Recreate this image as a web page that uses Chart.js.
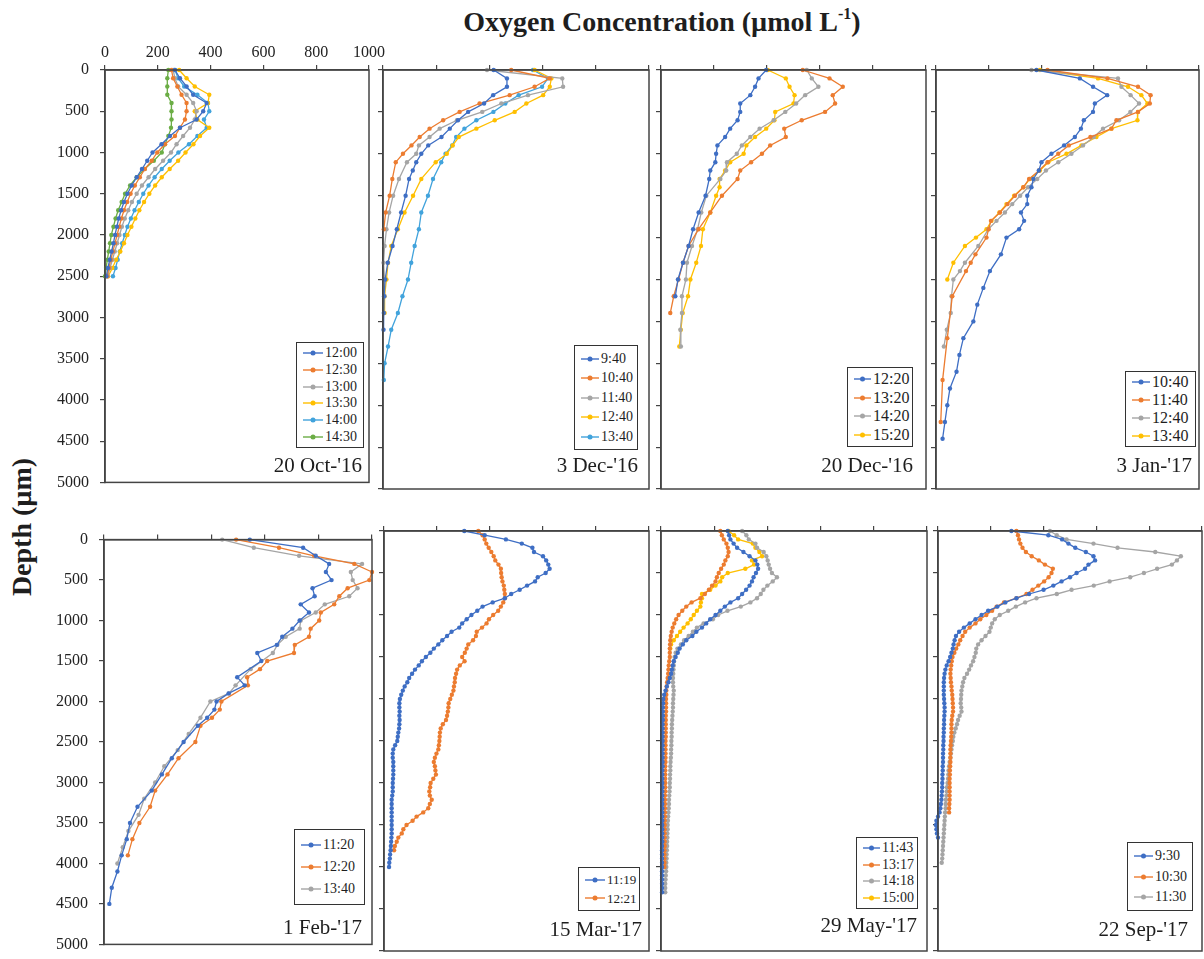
<!DOCTYPE html>
<html>
<head>
<meta charset="utf-8">
<title>Oxygen profiles</title>
<script src="https://cdn.jsdelivr.net/npm/chart.js@4.4.1/dist/chart.umd.min.js"></script>
<style>
  body { margin: 0; background: #fff; }
  #page { position: relative; width: 1204px; height: 959px; overflow: hidden;
          font-family: "Liberation Serif", "Times New Roman", serif; color: #1e1e1e; }
  .panel { position: absolute; }
  .panel canvas { display: block; }
  #title { position: absolute; left: 362px; width: 600px; top: 6px; text-align: center;
           font-size: 28px; font-weight: bold; line-height: 32px; }
  #title sup { font-size: 16px; vertical-align: 12px; line-height: 0; }
  #ylab { position: absolute; left: 22px; top: 527px; font-size: 28px; font-weight: bold;
          white-space: nowrap; line-height: 30px; transform: translate(-50%, -50%) rotate(-90deg); }
  .date { position: absolute; width: 200px; text-align: right; font-size: 21px; line-height: 21px; }
  .legend { position: absolute; box-sizing: border-box; border: 1.5px solid #333; background: #fff;
            display: flex; flex-direction: column; justify-content: space-evenly; padding-left: 6px; }
  .legend .item { display: flex; align-items: center; line-height: 1; }
  .legend svg { margin-right: 2px; }
</style>
</head>
<body>
<div id="page">
  <div id="title">Oxygen Concentration (µmol L<sup>-1</sup>)</div>
  <div id="ylab">Depth (µm)</div>
</div>
<script>
// depth grids (µm)
const depth100 = [0,100,200,300,400,500,600,700,800,900,1000,1100,1200,1300,1400,1500,1600,1700,1800,1900,
  2000,2100,2200,2300,2400,2500,2600,2700,2800,2900,3000,3100,3200,3300,3400,3500,3600,3700,3800,3900,
  4000,4100,4200,4300,4400,4500];
const depth50 = [0,50,100,150,200,250,300,350,400,450,500,550,600,650,700,750,800,850,900,950,
  1000,1050,1100,1150,1200,1250,1300,1350,1400,1450,1500,1550,1600,1650,1700,1750,1800,1850,1900,1950,
  2000,2050,2100,2150,2200,2250,2300,2350,2400,2450,2500,2550,2600,2650,2700,2750,2800,2850,2900,2950,
  3000,3050,3100,3150,3200,3250,3300,3350,3400,3450,3500,3550,3600,3650,3700,3750,3800,3850,3900,3950,
  4000,4050,4100,4150,4200,4250,4300];

const concTicks = [0, 200, 400, 600, 800, 1000];
const depthTicks = [0, 500, 1000, 1500, 2000, 2500, 3000, 3500, 4000, 4500, 5000];

// 20 Oct-'16 (µmol/L on depth100)
const oct20Times = ['12:00', '12:30', '13:00', '13:30', '14:00', '14:30'];
const oct20_1200 = [265,284,309,334,385,372,347,284,246,214,180,160,140,120,101,85,72,61,52,45,38,32,25,18,11,5];
const oct20_1230 = [252,258,274,290,309,309,303,284,265,227,198,177,151,132,113,97,84,72,62,54,46,38,30,22,15,8];
const oct20_1300 = [258,265,277,309,334,347,340,322,296,271,250,220,190,165,140,120,102,88,75,64,55,46,37,28,19,10];
const oct20_1330 = [281,309,340,395,390,340,350,395,360,335,305,277,245,215,190,168,148,130,115,100,85,72,58,42,28,12];
const oct20_1400 = [265,277,300,350,390,395,375,385,350,318,278,245,215,188,165,145,128,112,98,85,75,65,56,48,40,30];
const oct20_1430 = [240,236,236,236,252,252,252,250,240,227,215,185,150,120,95,76,63,50,40,32,24,19,14,9,4,0];

// 3 Dec-'16 (depth100)
const dec03Times = ['9:40', '10:40', '11:40', '12:40', '13:40'];
const dec03_0940 = [416,466,466,414,380,320,282,251,220,170,144,125,112,98,null,85,null,68,null,52,null,36,null,18,null,8,null,4,null,3,null,2];
const dec03_1040 = [482,627,570,476,363,288,226,175,138,107,75,48,null,35,null,25,null,10,null,3];
const dec03_1140 = [391,674,677,545,445,373,278,213,175,135,125,90,null,60,null,38,null,23,null,13,null,6,null,2,null,6,null,6];
const dec03_1240 = [570,633,627,602,539,495,420,351,285,262,240,198,null,144,null,113,null,81,null,56,null,31,null,19,null,13,null,6,null,6];
const dec03_1340 = [564,620,598,510,460,415,351,306,275,260,235,219,null,188,null,169,null,144,null,135,null,119,null,106,null,94,null,73,null,56,null,31,null,19,null,6,null,3];

// 20 Dec-'16 (depth100)
const dec20Times = ['12:20', '13:20', '14:20', '15:20'];
const dec20_1220 = [397,368,355,337,299,299,289,261,242,213,208,205,186,182,null,168,null,142,null,121,null,104,null,83,null,64,null,54];
const dec20_1320 = [535,636,686,648,657,619,531,465,471,412,381,340,299,289,null,230,null,186,null,142,null,104,null,83,null,66,null,48,null,35];
const dec20_1420 = [550,569,594,544,510,469,425,372,337,305,286,249,246,224,null,171,null,152,null,138,null,117,null,98,null,94,null,79,null,79,null,73,null,75];
const dec20_1520 = [403,471,485,504,500,431,428,397,355,322,312,261,242,221,221,208,null,186,null,158,null,151,null,133,null,111,null,102,null,82,null,75,null,69];

// 3 Jan-'17 (depth100)
const jan03Times = ['10:40', '11:40', '12:40', '13:40'];
const jan03_1040 = [382,547,597,651,604,597,562,551,528,487,439,401,391,370,363,347,347,323,335,316,268,null,247,null,205,null,180,null,157,null,142,null,104,null,89,null,78,null,53,null,43,null,34,null,25];
const jan03_1140 = [424,652,768,816,813,768,686,667,587,505,465,424,392,354,332,300,272,243,209,200,192,null,150,132,114,null,null,62,null,null,null,null,43,null,null,null,null,25,null,null,null,null,18];
const jan03_1240 = [363,692,705,740,772,739,696,635,600,559,515,465,418,385,350,320,290,262,230,199,null,161,null,110,91,66,null,59,null,56,null,41,null,30];
const jan03_1340 = [395,616,730,781,804,768,766,667,610,553,496,427,395,357,332,297,268,241,211,192,152,110,null,66,null,43];

// 1 Feb-'17 (depth100)
const feb01Times = ['11:20', '12:20', '13:40'];
const feb01_1120 = [544,743,790,840,828,849,778,786,734,765,730,703,665,645,572,587,null,497,525,465,420,412,385,350,null,297,null,253,null,216,null,178,null,125,null,97,null,85,null,66,null,50,null,29,null,20];
const feb01_1220 = [493,653,784,934,1000,990,909,878,859,809,803,771,765,712,709,609,582,534,537,null,438,432,403,360,null,341,null,278,null,237,null,191,null,172,null,132,null,106,null,89];
const feb01_1340 = [441,559,728,963,921,928,946,915,824,790,734,730,678,647,630,null,547,null,491,466,397,null,360,null,316,null,275,null,225,null,191,null,150,null,129,null,91,null,70,null,50];

// 15 Mar-'17 (depth50)
const mar15Times = ['11:19', '12:21'];
const mar15_1119 = [303,380,460,520,560,566,600,612,620,625, 610,580,570,540,512,480,456,410,372,352,
  330,312,295,284,255,238,220,205,188,175, 158,143,131,117,106,95,88,78,71,65,
  60,58,58,59,58,59,58,57,54,52, 50,42,35,33,33,35,35,35,35,34,
  33,33,33,31,29,29,29,29,29,29, 29,29,29,28,27,26,25,23,22,20, 19];
const mar15_1221 = [356,372,380,386,395,405,414,420,432,441, 442,444,447,452,454,456,456,450,441,431,
  412,396,387,370,350,347,336,318,312,305, 295,304,286,276,272,268,267,264,262,256,
  250,244,243,241,238,234,222,214,211,210, 209,207,205,198,192,188,192,194,196,186,
  176,174,171,173,180,173,167,148,123,108, 85,73,67,54,48,41,38];

// 29 May-'17 (depth50)
const may29Times = ['11:43', '13:17', '14:18', '15:00'];
const may29_1143 = [251,256,261,273,286,310,333,355,362,365, 357,348,342,333,320,305,290,261,240,223,
  205,185,170,154,133,118,95,82,70,63, 55,48,44,41,38,33,28,22,17,12,
  9,8,7,7,7,7,6,6,6,6, 6,6,6,6,6,6,6,5,5,5,
  5,5,5,5,5,5,5,5,5,5, 5,5,5,5,5,4,4,4,4,4, 4,4,4,4,4,4,4];
const may29_1317 = [223,229,236,246,251,254,251,242,236,226, 217,210,205,192,180,165,148,115,95,80,
  66,57,50,44,40,37,35,34,33,33, 33,31,29,28,27,25,23,21,20,20,
  19,19,19,19,18,18,18,18,18,18, 17,17,17,17,17,17,16,16,16,16,
  16,16,16,15,15,15,15,15,15,14, 14,14,14,14,14,14,13,13,13,13, 13];
const may29_1418 = [305,321,330,355,361,386,396,401,405,410, 417,436,420,400,385,375,361,336,300,250,
  215,195,160,135,120,104,87,75,62,55, 51,49,48,47,46,45,45,46,48,47,
  46,45,45,44,43,42,41,41,40,40, 39,39,38,38,37,36,35,35,34,34,
  33,33,32,31,30,30,29,28,27,26, 25,25,24,24,23,23,22,21,21,20, 20,19,18,17,16,16,16];
const may29_1500 = [254,275,290,345,355,370,380,342,350,317, 251,230,223,205,185,154,154,150,148,135,
  123,112,100,85,72,60,48,38,35];

// 22 Sep-'17 (depth50)
const sep22Times = ['9:30', '10:30', '11:30'];
const sep22_0930 = [278,418,470,494,520,560,589,595,570,557, 525,500,468,437,400,345,297,255,225,190,
  165,142,120,98,80,68,63,59,56,51, 46,40,33,28,25,23,22,22,22,22,
  23,24,25,25,24,23,23,22,22,21, 21,20,20,19,19,19,18,18,17,17,
  16,16,15,14,13,11,9,6,0,-6, -8,-6,-4,0];
const sep22_1030 = [297,303,307,312,320,333,355,382,405,435, 430,419,402,380,358,335,297,250,222,205,
  183,160,142,120,103,93,84,77,69,62, 55,52,50,48,47,48,49,51,52,54,
  55,56,57,57,54,52,51,51,51,50, 49,48,47,47,47,47,46,45,45,44,
  44,44,44,44,44,43,42,42];
const sep22_1130 = [424,450,487,589,680,823,920,905,886,830, 780,728,650,590,506,450,373,330,295,266,
  234,215,205,200,195,180,165,152,145,143, 138,133,125,118,110,100,95,92,89,88,
  87,86,88,89,82,76,72,67,62,58, 56,53,51,49,47,44,42,40,39,38,
  36,34,33,32,30,29,29,27,26,25, 24,23,22,21,20,19,18,17,16,14];

// office-style series colours
const blue = '#3E6EC4', orange = '#EC7C30', grey = '#A5A5A5', gold = '#FFBF00', sky = '#41A3DC', green = '#6BAD45';

const panels = [
  { date: "20 Oct-'16", depth: depth100, times: oct20Times,
    series: [oct20_1200, oct20_1230, oct20_1300, oct20_1330, oct20_1400, oct20_1430],
    colors: [blue, orange, grey, gold, sky, green] },
  { date: "3 Dec-'16", depth: depth100, times: dec03Times,
    series: [dec03_0940, dec03_1040, dec03_1140, dec03_1240, dec03_1340],
    colors: [blue, orange, grey, gold, sky] },
  { date: "20 Dec-'16", depth: depth100, times: dec20Times,
    series: [dec20_1220, dec20_1320, dec20_1420, dec20_1520], colors: [blue, orange, grey, gold] },
  { date: "3 Jan-'17", depth: depth100, times: jan03Times,
    series: [jan03_1040, jan03_1140, jan03_1240, jan03_1340], colors: [blue, orange, grey, gold] },
  { date: "1 Feb-'17", depth: depth100, times: feb01Times,
    series: [feb01_1120, feb01_1220, feb01_1340], colors: [blue, orange, grey] },
  { date: "15 Mar-'17", depth: depth50, times: mar15Times,
    series: [mar15_1119, mar15_1221], colors: [blue, orange] },
  { date: "29 May-'17", depth: depth50, times: may29Times,
    series: [may29_1143, may29_1317, may29_1418, may29_1500], colors: [blue, orange, grey, gold] },
  { date: "22 Sep-'17", depth: depth50, times: sep22Times,
    series: [sep22_0930, sep22_1030, sep22_1130], colors: [blue, orange, grey] }
];

// plot boxes [left, top, right, bottom] in page pixels
const plotBoxes = [
  [105, 70, 369, 489], [383, 70, 649, 489], [661, 70, 926, 489], [936, 70, 1199, 489],
  [104, 531, 372, 951], [384, 531, 649, 951], [661, 531, 927, 951], [938, 531, 1202, 951]
];
// legend boxes [left, top, right, bottom], font size, marker width
const legendBoxes = [
  [296, 342, 364, 448, 14, 20], [574, 345, 638, 450, 14, 18], [847, 367, 913, 447, 16, 17], [1125, 371, 1196, 447, 16, 18],
  [294, 829, 365, 905, 14, 20], [578, 867, 640, 911, 13, 20], [856, 837, 918, 909, 14, 17], [1127, 842, 1193, 911, 14, 19]
];
// date label [right edge, baseline]
const dateSpots = [[362, 473], [638, 473], [913, 473], [1192, 473], [362, 935], [642, 937], [917, 933], [1188, 937]];

Chart.defaults.font.family = "'Liberation Serif', 'Times New Roman', serif";
Chart.defaults.color = '#222';

const frame = {
  id: 'frame',
  afterDatasetsDraw(chart) {
    const a = chart.chartArea, g = chart.ctx;
    g.save();
    g.strokeStyle = '#444';
    g.lineWidth = 1.5;
    g.strokeRect(a.left, a.top, a.right - a.left, a.bottom - a.top);
    g.restore();
  }
};

const page = document.getElementById('page');

panels.forEach((p, i) => {
  const [l, t, r, b] = plotBoxes[i];
  const firstCol = i % 4 === 0;
  const yw = firstCol ? 60 : 8;
  const xh = i === 0 ? 45 : 12;
  const padR = i === 0 ? 24 : 6;
  const padB = 14;
  const w = r - l + yw + padR, h = b - t + xh + padB;

  const wrap = document.createElement('div');
  wrap.className = 'panel';
  wrap.style.left = (l - yw) + 'px';
  wrap.style.top = (t - xh) + 'px';
  wrap.style.width = w + 'px';
  wrap.style.height = h + 'px';
  const cv = document.createElement('canvas');
  cv.width = w; cv.height = h;
  cv.style.width = w + 'px'; cv.style.height = h + 'px';
  wrap.appendChild(cv);
  page.appendChild(wrap);

  new Chart(cv, {
    type: 'scatter',
    data: {
      datasets: p.series.map((vals, k) => ({
        label: p.times[k],
        data: vals.map((v, j) => v === null ? null : { x: v, y: p.depth[j] }).filter(Boolean),
        showLine: true,
        borderColor: p.colors[k],
        backgroundColor: p.colors[k],
        borderWidth: 1.3,
        pointRadius: 2.2,
        pointBorderWidth: 0,
        clip: false
      }))
    },
    options: {
      responsive: false,
      animation: false,
      events: [],
      layout: { padding: { left: 0, top: 0, right: padR, bottom: padB } },
      plugins: { legend: { display: false }, tooltip: { enabled: false } },
      scales: {
        x: {
          type: 'linear', position: 'top', min: 0, max: 1000,
          afterBuildTicks: s => { s.ticks = concTicks.map(v => ({ value: v })); },
          afterFit: s => { s.height = xh; },
          ticks: { display: i === 0, padding: 3, font: { size: 16 }, callback: v => String(v) },
          grid: { drawOnChartArea: false, tickLength: 5, color: '#444', lineWidth: 1.2 },
          border: { color: '#444', width: 1.5 }
        },
        y: {
          type: 'linear', reverse: true, min: 0, max: 5000,
          afterBuildTicks: s => { s.ticks = depthTicks.map(v => ({ value: v })); },
          afterFit: s => { s.width = yw; },
          ticks: { display: firstCol, padding: 11, font: { size: 16 }, callback: v => String(v) },
          grid: { drawOnChartArea: false, tickLength: 5, color: '#444', lineWidth: 1.2 },
          border: { color: '#444', width: 1.5 }
        }
      }
    },
    plugins: [frame]
  });

  // legend box
  const [ll, lt, lr, lb, fs, mw] = legendBoxes[i];
  const lg = document.createElement('div');
  lg.className = 'legend';
  lg.style.left = ll + 'px';
  lg.style.top = lt + 'px';
  lg.style.width = (lr - ll) + 'px';
  lg.style.height = (lb - lt) + 'px';
  lg.style.fontSize = fs + 'px';
  p.times.forEach((name, k) => {
    const c = p.colors[k];
    const item = document.createElement('div');
    item.className = 'item';
    item.innerHTML = '<svg width="' + mw + '" height="8"><line x1="0" y1="4" x2="' + mw + '" y2="4" stroke="' + c +
      '" stroke-width="1.4"/><circle cx="' + (mw / 2) + '" cy="4" r="2.5" fill="' + c + '"/></svg><span>' + name + '</span>';
    lg.appendChild(item);
  });
  page.appendChild(lg);

  // sampling date
  const [dx, dy] = dateSpots[i];
  const d = document.createElement('div');
  d.className = 'date';
  d.style.left = (dx - 200) + 'px';
  d.style.top = (dy - 18) + 'px';
  d.textContent = p.date;
  page.appendChild(d);
});
</script>
</body>
</html>
